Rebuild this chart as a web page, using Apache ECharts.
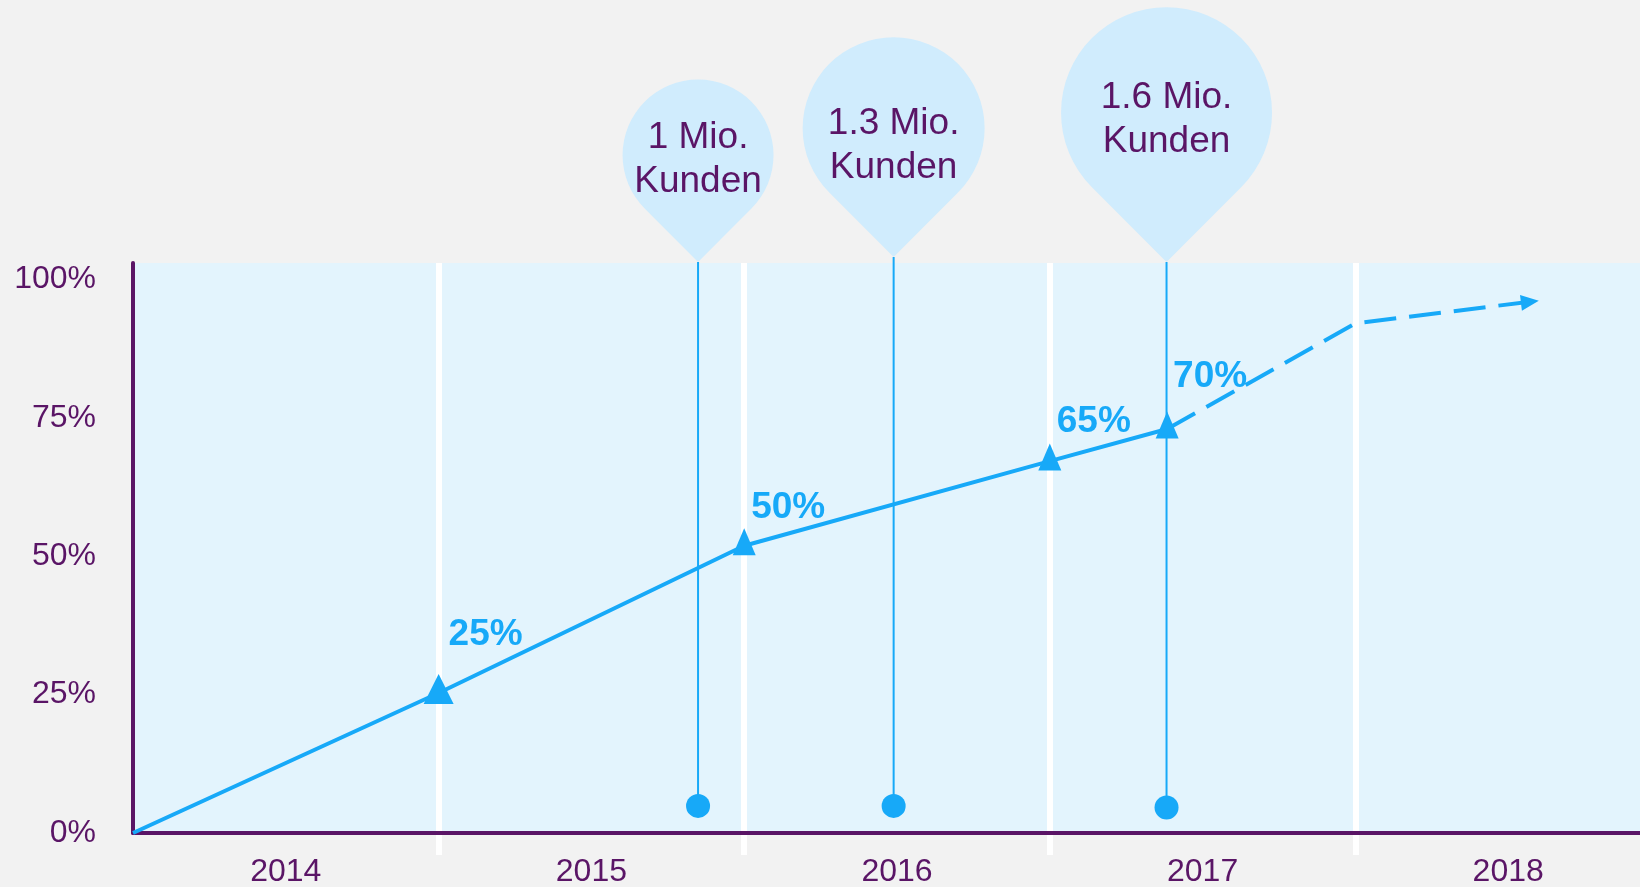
<!DOCTYPE html>
<html>
<head>
<meta charset="utf-8">
<title>Kunden Wachstum</title>
<script src="https://cdn.jsdelivr.net/npm/echarts@6/dist/echarts.min.js"></script>
<style>
  html, body { margin: 0; padding: 0; background: #f2f2f2; }
  #myChart { width: 1640px; height: 887px; }
</style>
</head>
<body>
<div id="myChart"></div>
<script>
// 数据
const years = ['2014', '2015', '2016', '2017', '2018']
const growthX = [2014, 2015, 2016, 2017, 2017.384]
const growthY = [0, 25.3, 51.9, 67.2, 73.0]
const growthLabels = ['', '25%', '50%', '65%', '70%']
const forecastX = [2017.384, 2018, 2018.571]
const forecastY = [73.0, 92.1, 96.0]
const milestoneX = [2015.849, 2016.489, 2017.382]
const milestoneTop = [103.2, 104.1, 103.2]
const milestoneBase = [4.9, 4.9, 4.6]
const milestoneLabels = ['1 Mio.\nKunden', '1.3 Mio.\nKunden', '1.6 Mio.\nKunden']

// 样式 / 位置
const purple = '#5a1566'
const blue = '#17a9f8'
const labelOffsets = [[0, 0], [47, -54], [44, -34], [44, -35], [43, -48]]
const balloonWidths = [151, 182, 211]
const balloonTextShift = [-11, -1, -15]
// 水滴形 (圆 + 直角尖), 不要 keepAspect, 否则会被压扁
const balloonPath = 'path://M-70.71 70.71A100 100 0 1 1 70.71 70.71L0 141.42Z'
const font = 'Liberation Sans, Arial, sans-serif'

let growthData = growthX.map((x, i) => ({
  value: [x, growthY[i]],
  symbol: i === 0 ? 'none' : 'triangle',
  symbolSize: i === 1 ? 30 : [23, 27],
  symbolOffset: [0, -4],
  label: {
    show: i > 0,
    position: 'inside',
    offset: labelOffsets[i],
    formatter: growthLabels[i]
  }
}))

let forecastData = forecastX.map((x, i) => ({
  value: [x, forecastY[i]],
  symbol: i === forecastX.length - 1 ? 'triangle' : 'none',
  symbolSize: [16, 18],
  symbolRotate: -83
}))

let balloonData = milestoneX.map((x, i) => {
  let w = balloonWidths[i]
  let h = w * 241.42 / 200
  return {
    value: [x, milestoneTop[i]],
    symbolSize: [w, h],
    label: { offset: [0, balloonTextShift[i]], formatter: milestoneLabels[i] }
  }
})

// 每个里程碑一条竖线
let pinLines = milestoneX.map((x, i) => ({
  type: 'line',
  xAxisIndex: 1,
  data: [[x, milestoneBase[i]], [x, milestoneTop[i]]],
  symbol: 'none',
  clip: false,
  z: 2,
  lineStyle: { color: blue, width: 2 }
}))

let option = {
  backgroundColor: '#f2f2f2',
  animation: false,
  grid: {
    left: 133,
    top: 263,
    width: 1528,
    height: 570,
    outerBoundsMode: 'none',
    containLabel: false,
    show: true,
    backgroundColor: '#e3f4fd',
    borderWidth: 0
  },
  xAxis: [
    {
      // 年份 (类目轴)
      type: 'category',
      data: years,
      position: 'bottom',
      boundaryGap: true,
      axisLine: { show: false, onZero: false },
      axisTick: {
        show: true,
        inside: false,
        length: 22,
        interval: function (index) { return index !== 0 },
        lineStyle: { color: '#ffffff', width: 6 }
      },
      splitLine: {
        show: true,
        showMinLine: false,
        lineStyle: { color: '#ffffff', width: 6 }
      },
      axisLabel: { color: purple, fontSize: 32, fontFamily: font, margin: 23 }
    },
    {
      // 数值轴 (画数据用)
      type: 'value',
      position: 'bottom',
      min: 2014,
      max: 2019,
      z: 1,
      axisLine: { show: true, onZero: false, lineStyle: { color: purple, width: 4 } },
      axisTick: { show: false },
      axisLabel: { show: false },
      splitLine: { show: false }
    }
  ],
  yAxis: {
    type: 'value',
    min: 0,
    max: 103,
    interval: 25,
    axisLine: { show: true, onZero: false, lineStyle: { color: purple, width: 4 } },
    axisTick: { show: false },
    splitLine: { show: false },
    axisLabel: {
      color: purple,
      fontSize: 32,
      fontFamily: font,
      margin: 37,
      formatter: v => (v % 25 === 0 ? v + '%' : '')
    }
  },
  series: [
    ...pinLines,
    {
      // 底部圆点
      type: 'scatter',
      xAxisIndex: 1,
      data: milestoneX.map((x, i) => [x, milestoneBase[i]]),
      symbol: 'circle',
      symbolSize: 24,
      z: 3,
      itemStyle: { color: blue, opacity: 1 }
    },
    {
      // 气球
      type: 'scatter',
      xAxisIndex: 1,
      data: balloonData,
      symbol: balloonPath,
      symbolKeepAspect: false,
      symbolOffset: [0, '-50%'],
      clip: false,
      z: 3,
      itemStyle: { color: '#d0ecfd', opacity: 1 },
      label: {
        show: true,
        position: 'inside',
        color: purple,
        fontSize: 37,
        lineHeight: 44,
        fontFamily: font
      }
    },
    {
      // 实线
      type: 'line',
      xAxisIndex: 1,
      data: growthData,
      z: 4,
      lineStyle: { color: blue, width: 4 },
      itemStyle: { color: blue },
      label: { color: blue, fontSize: 37, fontWeight: 'bold', fontFamily: font }
    },
    {
      // 预测 (虚线)
      type: 'line',
      xAxisIndex: 1,
      data: forecastData,
      z: 4,
      clip: false,
      lineStyle: { color: blue, width: 4, type: [32, 13] },
      itemStyle: { color: blue }
    }
  ]
}

let chart = echarts.init(document.getElementById('myChart'))
chart.setOption(option)
window.onresize = function () {
  chart.resize()
}
</script>
</body>
</html>
